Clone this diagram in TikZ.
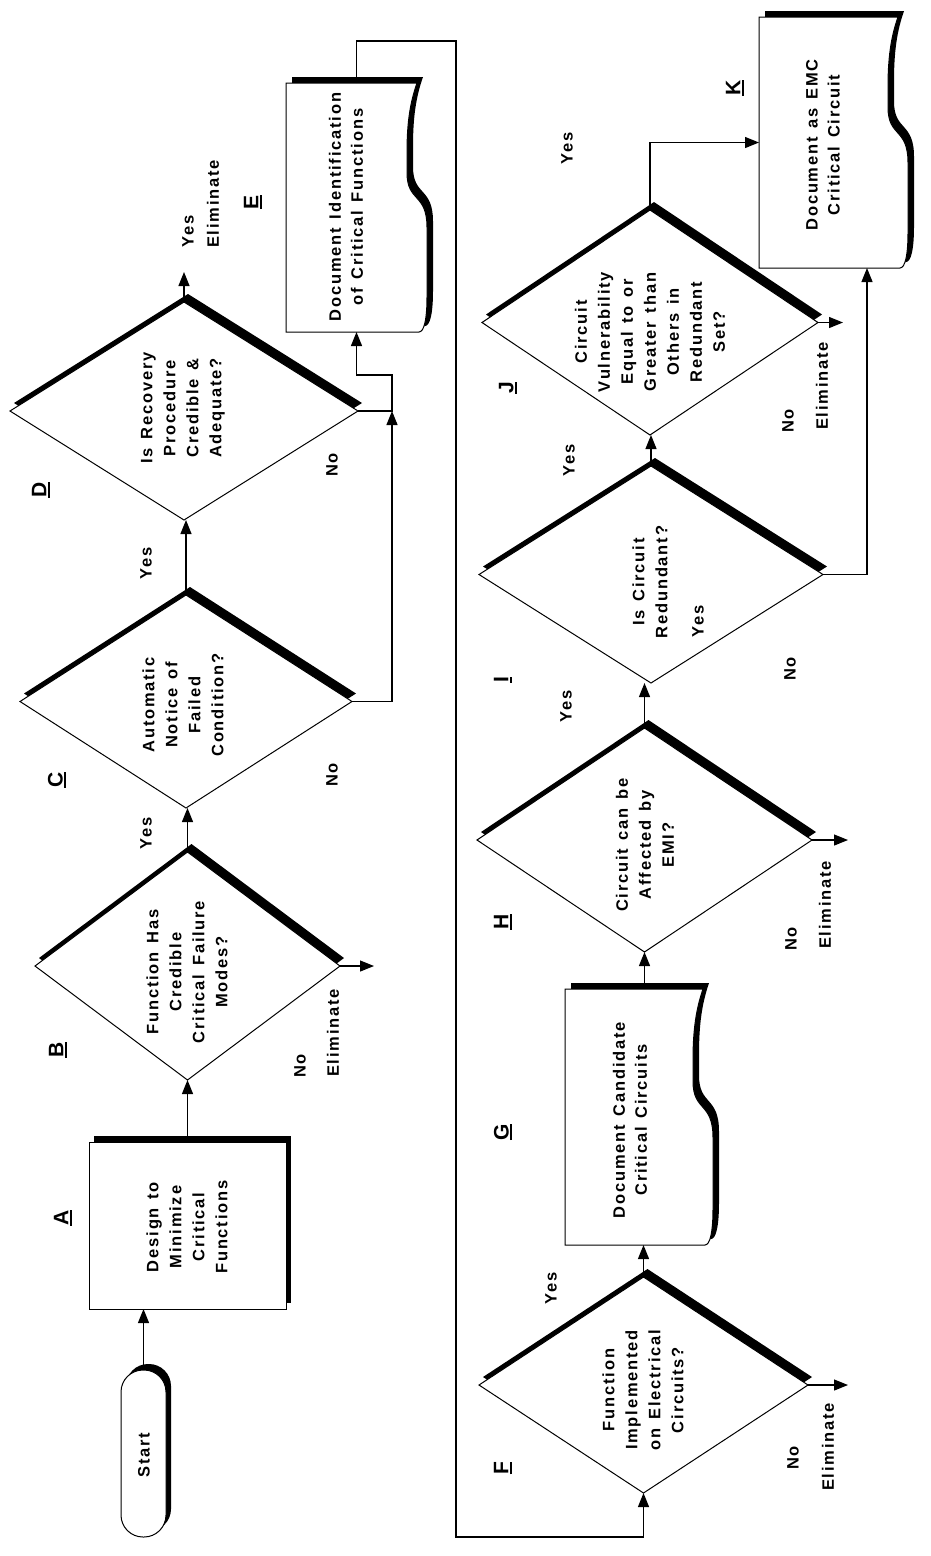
\documentclass[tikz,border=0pt]{standalone}
\usepackage{fontspec}
\setmainfont{Liberation Sans}
\newfontfamily\flowfont{Liberation Sans}[LetterSpace=11,WordSpace=1.35]
\newfontfamily\lblfont{Liberation Sans}
\usetikzlibrary{arrows.meta,shapes.geometric,shadows}
\newcommand\ulbl[1]{\sbox0{#1}\rlap{\rule[-3.5pt]{\wd0}{2.4pt}}\usebox0}
\newcommand\flowdoc[5]{%
  \path[#1] (#2,#5) -- (#2,#3) -- ({#4-10},#3)
    .. controls ({#4-17},{#3+0.08*(#5-#3)}) and ({#4-20},{#3+0.16*(#5-#3)}) .. ({#4-20},{#3+0.28*(#5-#3)})
    -- ({#4-20},{#3+0.36*(#5-#3)})
    .. controls ({#4-20},{#3+0.48*(#5-#3)}) and ({#4},{#3+0.44*(#5-#3)}) .. ({#4},{#3+0.58*(#5-#3)})
    -- ({#4},{#3+0.86*(#5-#3)})
    .. controls ({#4},{#3+0.95*(#5-#3)}) and ({#4-3},#5) .. ({#4-8},#5) -- cycle;}
\begin{document}
\begin{tikzpicture}[x=1pt,y=-1pt,
  ln/.style={line width=1.2pt},
  arr/.style={line width=1.2pt,-{Triangle[length=14pt,width=11pt]}},
  dia/.style={diamond,draw,line width=1pt,fill=white,inner sep=0pt,outer sep=0pt,
    drop shadow={shadow xshift=4pt,shadow yshift=8pt,fill=black,opacity=1}},
  box/.style={rectangle,draw,line width=1pt,fill=white,inner sep=0pt,outer sep=0pt,
    drop shadow={shadow xshift=5pt,shadow yshift=6pt,fill=black,opacity=1}},
  term/.style={box,rounded corners=22pt},
  anch/.style={rectangle,inner sep=0pt,outer sep=0pt},
  txt/.style={rotate=90,align=center,inner sep=0pt,font=\flowfont\bfseries\fontsize{16.5}{23}\selectfont},
  doctxt/.style={txt,font=\flowfont\bfseries\fontsize{16.5}{22}\selectfont},
  lbl/.style={rotate=90,inner sep=0pt,font=\lblfont\bfseries\fontsize{21}{24}\selectfont}]
\fill[white] (0,0) rectangle (930,1556);
\useasboundingbox (0,0) rectangle (930,1556);

% document shapes
\flowdoc{fill=black,shift={(6,-6)}}{286}{83}{427}{332}
\flowdoc{fill=white,draw=black,line width=1pt}{286}{83}{427}{332}
\flowdoc{fill=black,shift={(6,-6)}}{565}{989}{713}{1245}
\flowdoc{fill=white,draw=black,line width=1pt}{565}{989}{713}{1245}
\flowdoc{fill=black,shift={(6,-6)}}{759}{17}{908}{268}
\flowdoc{fill=white,draw=black,line width=1pt}{759}{17}{908}{268}
\node[anch,minimum width=141pt,minimum height=249pt] (E) at (356.5,207.5) {};
\node[anch,minimum width=148pt,minimum height=256pt] (G) at (639,1117) {};
\node[anch,minimum width=149pt,minimum height=251pt] (K) at (833.5,142.5) {};

% shapes
\node[term,minimum width=45pt,minimum height=167pt] (start) at (143.5,1453.5) {};
\node[box,minimum width=197pt,minimum height=167pt] (A) at (187.5,1225.5) {};
\node[dia,minimum width=305pt,minimum height=228pt] (B) at (187.5,966) {};
\node[dia,minimum width=332pt,minimum height=213pt] (C) at (186,701.5) {};
\node[dia,minimum width=348pt,minimum height=218pt] (D) at (184,411) {};
\node[dia,minimum width=329pt,minimum height=216pt] (F) at (643.5,1385) {};
\node[dia,minimum width=335pt,minimum height=224pt] (H) at (644.5,840) {};
\node[dia,minimum width=344pt,minimum height=217pt] (I) at (651,574.5) {};
\node[dia,minimum width=336pt,minimum height=225pt] (J) at (650,322.5) {};

% free ends and bends
\coordinate (Bx) at ([xshift=34pt]B.east);
\coordinate (Dx) at ([yshift=30pt]D.north);
\coordinate (cj) at ([xshift=34pt]D.east);
\coordinate (ej) at ([yshift=-43pt]E.south);
\coordinate (L1) at ([yshift=42pt]E.north);
\coordinate (L3) at (456,1537);
\coordinate (Fx) at ([xshift=40pt]F.east);
\coordinate (Hx) at ([xshift=36pt]H.east);
\coordinate (Jx) at ([xshift=25pt]J.east);
\coordinate (Ik) at ([xshift=33.5pt]K.south);

% connectors
\draw[arr] (start.north) -- (start.north |- A.south);
\draw[arr] (A.north) -- (A.north |- B.south);
\draw[arr] (B.north) -- (B.north |- C.south);
\draw[arr] (C.north) -- (C.north |- D.south);
\draw[arr] (B.east) -- (Bx);
\draw[arr] (D.north) -- (Dx);
\draw[arr] (C.east) -| (cj);
\draw[arr] (D.east) -- (cj) |- (ej) -- (E.south);
\draw[arr] (E.north) -- (L1) -| (L3) -| (F.south);
\draw[arr] (F.north) -- (F.north |- G.south);
\draw[arr] (F.east) -- (Fx);
\draw[arr] (H.south |- G.north) -- (H.south);
\draw[arr] (H.east) -- (Hx);
\draw[arr] (H.north) -- (H.north |- I.south);
\draw[arr] (I.north) -- (I.north |- J.south);
\draw[arr] (I.east) -| (Ik);
\draw[arr] (J.east) -- (Jx);
\draw[arr] (J.north) |- (K.west);

% texts
\node[txt] (tStart) at (144,1455) {Start};
\node[txt] (tA) at (187,1227) {Design to\\Minimize\\Critical\\Functions};
\node[txt] (tB) at (187,972) {Function Has\\Credible\\Critical Failure\\Modes?};
\node[txt] (tC) at (183,705) {Automatic\\Notice of\\Failed\\Condition?};
\node[txt] (tD) at (183,408) {Is Recovery\\Procedure\\Credible \&\\Adequate?};
\node[doctxt] (tE) at (346,207) {Document Identification\\of Critical Functions};
\node[txt] (tF) at (643,1390) {Function\\Implemented\\on Electrical\\Circuits?};
\node[doctxt] (tG) at (630,1120) {Document Candidate\\Critical Circuits};
\node[txt] (tH) at (645,845) {Circuit can be\\Affected by\\EMI?};
\node[txt] (tI) at (650,582) {Is Circuit\\Redundant?};
\node[txt] (tIy) at (698,621) {Yes};
\node[txt] (tJ) at (650,332) {Circuit\\Vulnerability\\Equal to or\\Greater than\\Others in\\Redundant\\Set?};
\node[doctxt] (tK) at (823,145) {Document as EMC\\Critical Circuit};

% branch labels
\node[txt] (yBC) at (146,833) {Yes};
\node[txt] (yCD) at (146,563) {Yes};
\node[txt] (yD) at (188,231) {Yes};
\node[txt] (eD) at (213,204) {Eliminate};
\node[txt] (nB) at (300,1066) {No};
\node[txt] (eB) at (333,1033) {Eliminate};
\node[txt] (nC) at (332,775) {No};
\node[txt] (nD) at (332,465) {No};
\node[txt] (yF) at (551,1288) {Yes};
\node[txt] (nF) at (793,1458) {No};
\node[txt] (eF) at (828,1447) {Eliminate};
\node[txt] (nH) at (791,939) {No};
\node[txt] (eH) at (825,905) {Eliminate};
\node[txt] (yHI) at (566,706) {Yes};
\node[txt] (nI) at (790,669) {No};
\node[txt] (yIJ) at (569,460) {Yes};
\node[txt] (nJ) at (788,421) {No};
\node[txt] (eJ) at (822,386) {Eliminate};
\node[txt] (yJK) at (567,148) {Yes};

% step letters
\node[lbl] (lA) at (63,1218) {\ulbl{A}};
\node[lbl] (lB) at (58,1050) {\ulbl{B}};
\node[lbl] (lC) at (57,780) {\ulbl{C}};
\node[lbl] (lD) at (41,490) {\ulbl{D}};
\node[lbl] (lE) at (253,202) {\ulbl{E}};
\node[lbl] (lF) at (503,1468) {\ulbl{F}};
\node[lbl] (lG) at (503,1132) {\ulbl{G}};
\node[lbl] (lH) at (503,922) {\ulbl{H}};
\node[lbl] (lI) at (503,680) {\ulbl{I}};
\node[lbl] (lJ) at (508,388) {\ulbl{J}};
\node[lbl] (lK) at (735,88) {\ulbl{K}};
\end{tikzpicture}
\end{document}
